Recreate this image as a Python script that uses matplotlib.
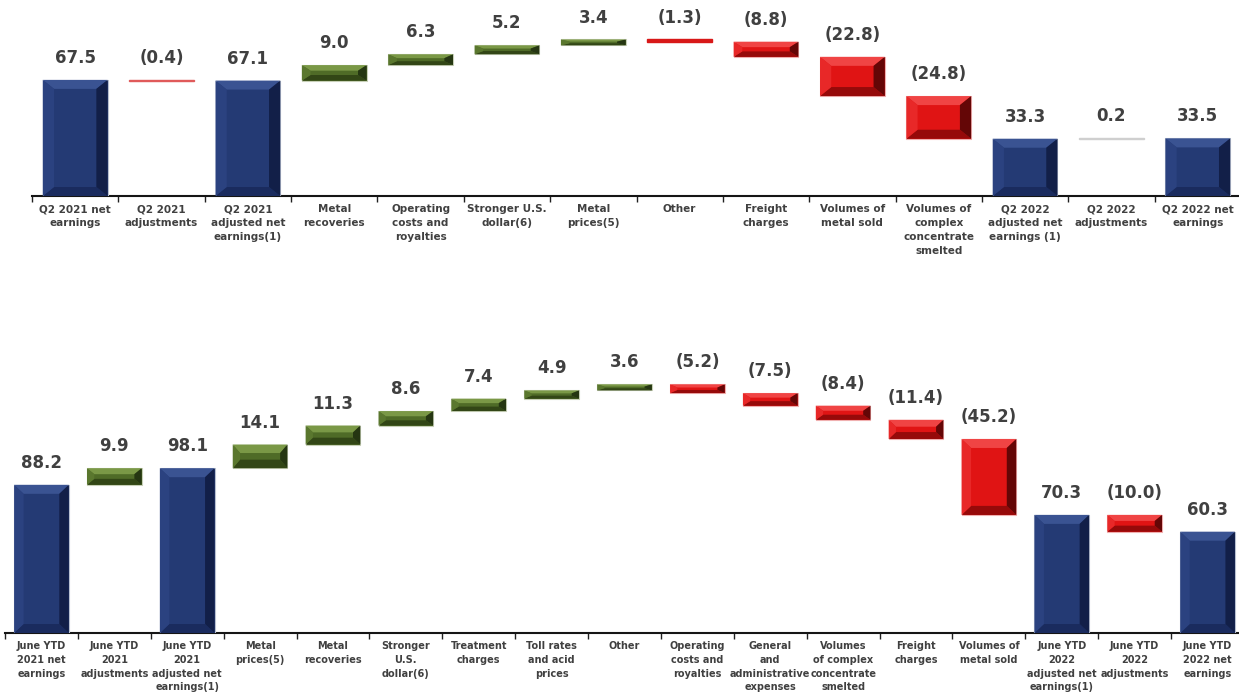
import matplotlib
matplotlib.use("Agg")
import matplotlib.pyplot as plt
from matplotlib.patches import Polygon
import numpy as np

# ---------------- data ----------------
top_labels = ["Q2 2021 net\nearnings", "Q2 2021\nadjustments", "Q2 2021\nadjusted net\nearnings(1)",
              "Metal\nrecoveries", "Operating\ncosts and\nroyalties", "Stronger U.S.\ndollar(6)",
              "Metal\nprices(5)", "Other", "Freight\ncharges", "Volumes of\nmetal sold",
              "Volumes of\ncomplex\nconcentrate\nsmelted", "Q2 2022\nadjusted net\nearnings (1)",
              "Q2 2022\nadjustments", "Q2 2022 net\nearnings"]
top_values = [67.5, -0.4, 67.1, 9.0, 6.3, 5.2, 3.4, -1.3, -8.8, -22.8, -24.8, 33.3, 0.2, 33.5]
top_is_total = [True, False, True, False, False, False, False, False, False, False, False, True, False, True]

bot_labels = ["June YTD\n2021 net\nearnings", "June YTD\n2021\nadjustments",
              "June YTD\n2021\nadjusted net\nearnings(1)", "Metal\nprices(5)", "Metal\nrecoveries",
              "Stronger\nU.S.\ndollar(6)", "Treatment\ncharges", "Toll rates\nand acid\nprices",
              "Other", "Operating\ncosts and\nroyalties", "General\nand\nadministrative\nexpenses",
              "Volumes\nof complex\nconcentrate\nsmelted", "Freight\ncharges", "Volumes of\nmetal sold",
              "June YTD\n2022\nadjusted net\nearnings(1)", "June YTD\n2022\nadjustments",
              "June YTD\n2022 net\nearnings"]
bot_values = [88.2, 9.9, 98.1, 14.1, 11.3, 8.6, 7.4, 4.9, 3.6, -5.2, -7.5, -8.4, -11.4, -45.2,
              70.3, -10.0, 60.3]
bot_is_total = [True, False, True, False, False, False, False, False, False, False, False, False,
                False, False, True, False, True]

# ---------------- styles ----------------
STY = {
    "blue":  dict(face="#243a74", top="#3a5392", left="#2b4280", right="#121f48", bot="#1a2b5e", edge="#b8c0d0"),
    "green": dict(face="#4f6b27", top="#7a9846", left="#5a772e", right="#253612", bot="#324616", edge="#c8d0b8"),
    "red":   dict(face="#e01414", top="#f04444", left="#e82828", right="#640606", bot="#960a0a", edge="#f0b0b0"),
}

W, H = 1239, 692
fig = plt.figure(figsize=(W / 100, H / 100), dpi=100)


def fpos(left_px, right_px, base_px, top_px):
    return [left_px / W, (H - base_px) / H, (right_px - left_px) / W, (base_px - top_px) / H]


def waterfall(ax, labels, values, totals, ymax, ppu, lab_size, lab_linespacing):
    n = len(values)
    x = np.arange(n)
    bottoms, heights = [], []
    run = 0.0
    for v, t in zip(values, totals):
        if t:
            bottoms.append(0.0)
            heights.append(v)
            run = v
        else:
            lo = run if v >= 0 else run + v
            bottoms.append(lo)
            heights.append(abs(v))
            run += v
    width = 0.75
    for i in range(n):
        v = values[i]
        if totals[i]:
            key = "blue"
        elif v >= 0:
            key = "green"
        else:
            key = "red"
        s = STY[key]
        b, h = bottoms[i], heights[i]
        thin = (not totals[i]) and abs(v) < 1.5
        if thin:
            col = "#cfcfcf" if abs(v) < 0.3 else ("#e05a5a" if abs(v) < 1.0 else "#d81818")
            ax.bar(x[i], h, width=width, bottom=b, color=col, edgecolor=col, linewidth=1.0, zorder=3)
        else:
            ax.bar(x[i], h, width=width, bottom=b, color=s["face"], edgecolor=s["edge"],
                   linewidth=0.8, zorder=3)
            x0, x1 = x[i] - width / 2, x[i] + width / 2
            y0, y1 = b, b + h
            dy = min(9.0 / ppu, h * 0.36)
            dx = 0.13 if h * ppu > 25 else 0.10
            polys = [
                ([(x0, y1), (x1, y1), (x1 - dx, y1 - dy), (x0 + dx, y1 - dy)], s["top"]),
                ([(x0, y0), (x1, y0), (x1 - dx, y0 + dy), (x0 + dx, y0 + dy)], s["bot"]),
                ([(x0, y0), (x0, y1), (x0 + dx, y1 - dy), (x0 + dx, y0 + dy)], s["left"]),
                ([(x1, y0), (x1, y1), (x1 - dx, y1 - dy), (x1 - dx, y0 + dy)], s["right"]),
            ]
            for pts, c in polys:
                ax.add_patch(Polygon(pts, closed=True, facecolor=c, edgecolor="none", zorder=4))
        txt = f"{v:.1f}" if v >= 0 else f"({abs(v):.1f})"
        ax.annotate(txt, (x[i], b + h), xytext=(0, 15.8), textcoords="offset points",
                    ha="center", va="center", fontsize=12, fontweight="bold", color="#404040",
                    zorder=5)
    ax.set_xlim(-0.5, n - 0.5)
    ax.set_ylim(0, ymax)
    ax.set_xticks(x)
    ax.set_xticklabels(labels, fontsize=lab_size, fontweight="bold", color="#404040",
                       linespacing=lab_linespacing, va="top")
    ax.tick_params(axis="x", which="major", length=0, pad=6.0)
    ax.set_xticks(np.arange(n + 1) - 0.5, minor=True)
    ax.tick_params(axis="x", which="minor", length=4, width=1.0, color="#202020", direction="out")
    ax.set_yticks([])
    for sp in ["top", "right", "left"]:
        ax.spines[sp].set_visible(False)
    ax.spines["bottom"].set_linewidth(1.5)
    ax.spines["bottom"].set_color("#151515")
    ax.patch.set_alpha(0)


ax1 = fig.add_axes(fpos(32, 1241, 196, 196 - 113 * 1.72))
waterfall(ax1, top_labels, top_values, top_is_total, 113, 1.72, 7.5, 1.47)

ax2 = fig.add_axes(fpos(5, 1244, 633, 633 - 175 * 1.68))
waterfall(ax2, bot_labels, bot_values, bot_is_total, 175, 1.68, 7.0, 1.45)

fig.savefig("out.png", dpi=100)
